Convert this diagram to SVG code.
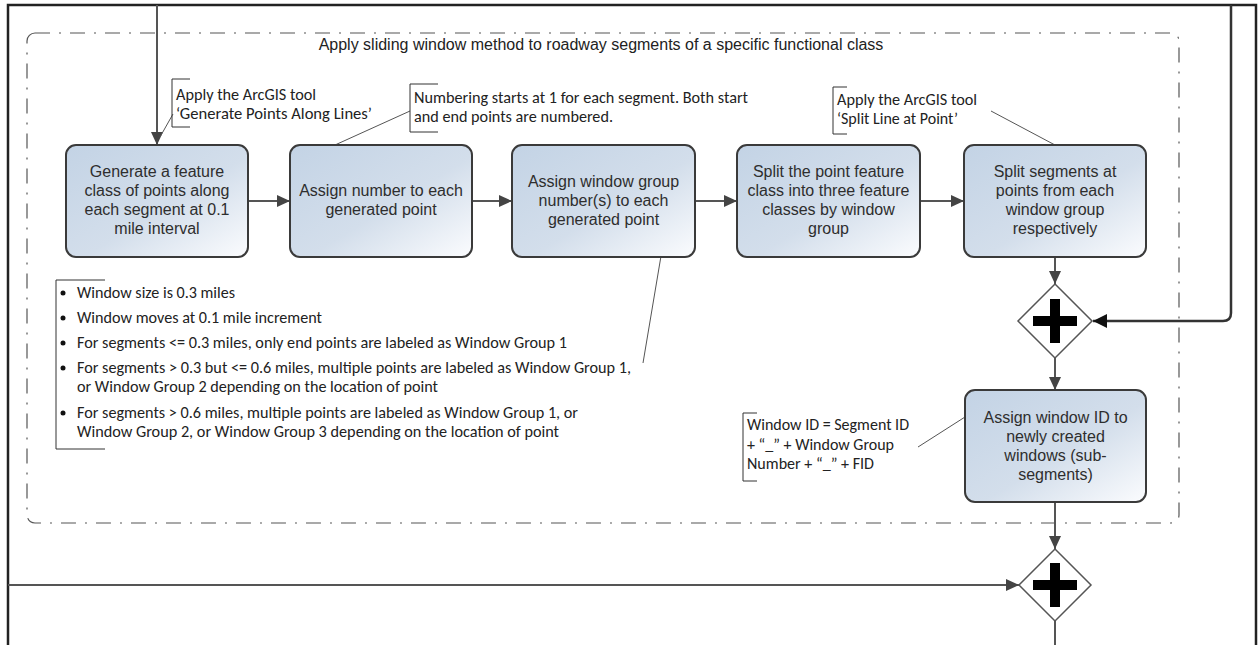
<svg xmlns="http://www.w3.org/2000/svg" width="1259" height="645" viewBox="0 0 1259 645">
<style>
.box{stroke:#3a3a3a;stroke-width:2;fill:url(#g)}
.bt{font-family:"Liberation Sans",Arial,sans-serif;font-size:16px;fill:#2e2e2e;text-anchor:middle}
.an{font-family:Carlito,Calibri,Lato,"Liberation Sans",sans-serif;font-size:16px;fill:#222}
.br{fill:none;stroke:#333;stroke-width:1}
.as{stroke:#555;stroke-width:1;fill:none}
.cn{stroke:#555;stroke-width:2;fill:none}
.dm{fill:#fff;stroke:#555;stroke-width:1.5}
.pl{fill:#000}
</style>
<defs>
<linearGradient id="g" x1="0" y1="0" x2="1" y2="1">
<stop offset="0" stop-color="#c3d3e5"/>
<stop offset="0.55" stop-color="#d3deeb"/>
<stop offset="1" stop-color="#fbfcfe"/>
</linearGradient>
<marker id="ah" markerUnits="userSpaceOnUse" markerWidth="14" markerHeight="12" refX="13" refY="6" orient="auto">
<path d="M0,0 L13,6 L0,12 z" fill="#444"/>
</marker>
<marker id="ahb" markerUnits="userSpaceOnUse" markerWidth="15" markerHeight="14" refX="14" refY="7" orient="auto">
<path d="M0,0 L14,7 L0,14 z" fill="#111"/>
</marker>
</defs>
<rect width="1259" height="645" fill="#fff"/>
<g id="frame">
<path d="M8,645 V5 H1256 V645" fill="none" stroke="#222" stroke-width="2.5"/>
</g>
<g id="container">
<rect x="27" y="33" width="1152" height="490" rx="8" fill="none" stroke="#555" stroke-width="1.2" stroke-dasharray="15 9 2 9"/>
<text x="601" y="50" class="bt" style="fill:#222">Apply sliding window method to roadway segments of a specific functional class</text>
</g>
<g id="connectors">
<path class="cn" d="M157,5 V145" marker-end="url(#ah)"/>
<path class="cn" d="M248,201 H290" marker-end="url(#ah)"/>
<path class="cn" d="M472,201 H512" marker-end="url(#ah)"/>
<path class="cn" d="M695,201 H737" marker-end="url(#ah)"/>
<path class="cn" d="M920,201 H964" marker-end="url(#ah)"/>
<path class="cn" d="M1055,257 V284" marker-end="url(#ah)"/>
<path d="M1231,5 V313 Q1231,321 1223,321 H1093" fill="none" stroke="#333" stroke-width="2.5" marker-end="url(#ahb)"/>
<path class="cn" d="M1055,358 V390" marker-end="url(#ah)"/>
<path class="cn" d="M1055,502 V549" marker-end="url(#ah)"/>
<path class="cn" d="M8,585 H1019" marker-end="url(#ah)"/>
<path class="cn" d="M1055,621 V645"/>
<path class="as" d="M173,114 L160,137"/>
<path class="as" d="M410,111 L335,145"/>
<path class="as" d="M991,111 L1055,145"/>
<path class="as" d="M661,256 L643,363"/>
<path class="as" d="M918,447 L965,417"/>
</g>
<g id="n1">
<rect class="box" x="66" y="145" width="182" height="112" rx="10"/>
<text class="bt"><tspan x="157" y="177">Generate a feature</tspan><tspan x="157" y="196">class of points along</tspan><tspan x="157" y="215">each segment at 0.1</tspan><tspan x="157" y="234">mile interval</tspan></text>
</g>
<g id="n2">
<rect class="box" x="290" y="145" width="182" height="112" rx="10"/>
<text class="bt"><tspan x="381" y="196">Assign number to each</tspan><tspan x="381" y="215">generated point</tspan></text>
</g>
<g id="n3">
<rect class="box" x="512" y="145" width="183" height="112" rx="10"/>
<text class="bt"><tspan x="603.5" y="187">Assign window group</tspan><tspan x="603.5" y="206">number(s) to each</tspan><tspan x="603.5" y="225">generated point</tspan></text>
</g>
<g id="n4">
<rect class="box" x="737" y="145" width="183" height="112" rx="10"/>
<text class="bt"><tspan x="828.5" y="177">Split the point feature</tspan><tspan x="828.5" y="196">class into three feature</tspan><tspan x="828.5" y="215">classes by window</tspan><tspan x="828.5" y="234">group</tspan></text>
</g>
<g id="n5">
<rect class="box" x="964" y="145" width="182" height="112" rx="10"/>
<text class="bt"><tspan x="1055" y="177">Split segments at</tspan><tspan x="1055" y="196">points from each</tspan><tspan x="1055" y="215">window group</tspan><tspan x="1055" y="234">respectively</tspan></text>
</g>
<g id="gw1">
<path class="dm" d="M1055,284 L1092,321 L1055,358 L1018,321 z"/>
<rect class="pl" x="1033" y="316" width="44" height="10"/>
<rect class="pl" x="1050" y="299" width="10" height="44"/>
</g>
<g id="n6">
<rect class="box" x="965" y="390" width="181" height="112" rx="10"/>
<text class="bt"><tspan x="1055.5" y="423">Assign window ID to</tspan><tspan x="1055.5" y="442">newly created</tspan><tspan x="1055.5" y="461">windows (sub-</tspan><tspan x="1055.5" y="480">segments)</tspan></text>
</g>
<g id="gw2">
<path class="dm" d="M1055,549 L1091,585 L1055,621 L1019,585 z"/>
<rect class="pl" x="1033" y="580" width="44" height="10"/>
<rect class="pl" x="1050" y="563" width="10" height="44"/>
</g>
<g id="a1">
<path class="br" d="M190,79 H172 V127 H190"/>
<text class="an"><tspan x="176" y="100" textLength="140" lengthAdjust="spacingAndGlyphs">Apply the ArcGIS tool</tspan><tspan x="176" y="119" textLength="196" lengthAdjust="spacingAndGlyphs">‘Generate Points Along Lines’</tspan></text>
</g>
<g id="a2">
<path class="br" d="M438,84 H410 V132 H438"/>
<text class="an"><tspan x="414" y="103" textLength="334" lengthAdjust="spacingAndGlyphs">Numbering starts at 1 for each segment. Both start</tspan><tspan x="414" y="122" textLength="199" lengthAdjust="spacingAndGlyphs">and end points are numbered.</tspan></text>
</g>
<g id="a3">
<path class="br" d="M847,87 H833 V134 H847"/>
<text class="an"><tspan x="837" y="105" textLength="140" lengthAdjust="spacingAndGlyphs">Apply the ArcGIS tool</tspan><tspan x="837" y="124" textLength="121" lengthAdjust="spacingAndGlyphs">‘Split Line at Point’</tspan></text>
</g>
<g id="a4">
<path class="br" d="M105,280 H56 V449 H105"/>
<circle cx="63" cy="293" r="2.5" fill="#111"/>
<circle cx="63" cy="318" r="2.5" fill="#111"/>
<circle cx="63" cy="343" r="2.5" fill="#111"/>
<circle cx="63" cy="368" r="2.5" fill="#111"/>
<circle cx="63" cy="413" r="2.5" fill="#111"/>
<text class="an"><tspan x="77" y="298" textLength="158" lengthAdjust="spacingAndGlyphs">Window size is 0.3 miles</tspan><tspan x="77" y="323" textLength="245" lengthAdjust="spacingAndGlyphs">Window moves at 0.1 mile increment</tspan><tspan x="77" y="348" textLength="490" lengthAdjust="spacingAndGlyphs">For segments &lt;= 0.3 miles, only end points are labeled as Window Group 1</tspan><tspan x="77" y="373" textLength="554" lengthAdjust="spacingAndGlyphs">For segments &gt; 0.3 but &lt;= 0.6 miles, multiple points are labeled as Window Group 1,</tspan><tspan x="77" y="392" textLength="361" lengthAdjust="spacingAndGlyphs">or Window Group 2 depending on the location of point</tspan><tspan x="77" y="418" textLength="501" lengthAdjust="spacingAndGlyphs">For segments &gt; 0.6 miles, multiple points are labeled as Window Group 1, or</tspan><tspan x="77" y="437" textLength="482" lengthAdjust="spacingAndGlyphs">Window Group 2, or Window Group 3 depending on the location of point</tspan></text>
</g>
<g id="a6">
<path class="br" d="M757,413 H743 V481 H757"/>
<text class="an"><tspan x="747" y="430" textLength="162" lengthAdjust="spacingAndGlyphs">Window ID = Segment ID</tspan><tspan x="747" y="450" textLength="147" lengthAdjust="spacingAndGlyphs">+ “_” + Window Group</tspan><tspan x="747" y="469" textLength="127" lengthAdjust="spacingAndGlyphs">Number + “_” + FID</tspan></text>
</g>
</svg>
